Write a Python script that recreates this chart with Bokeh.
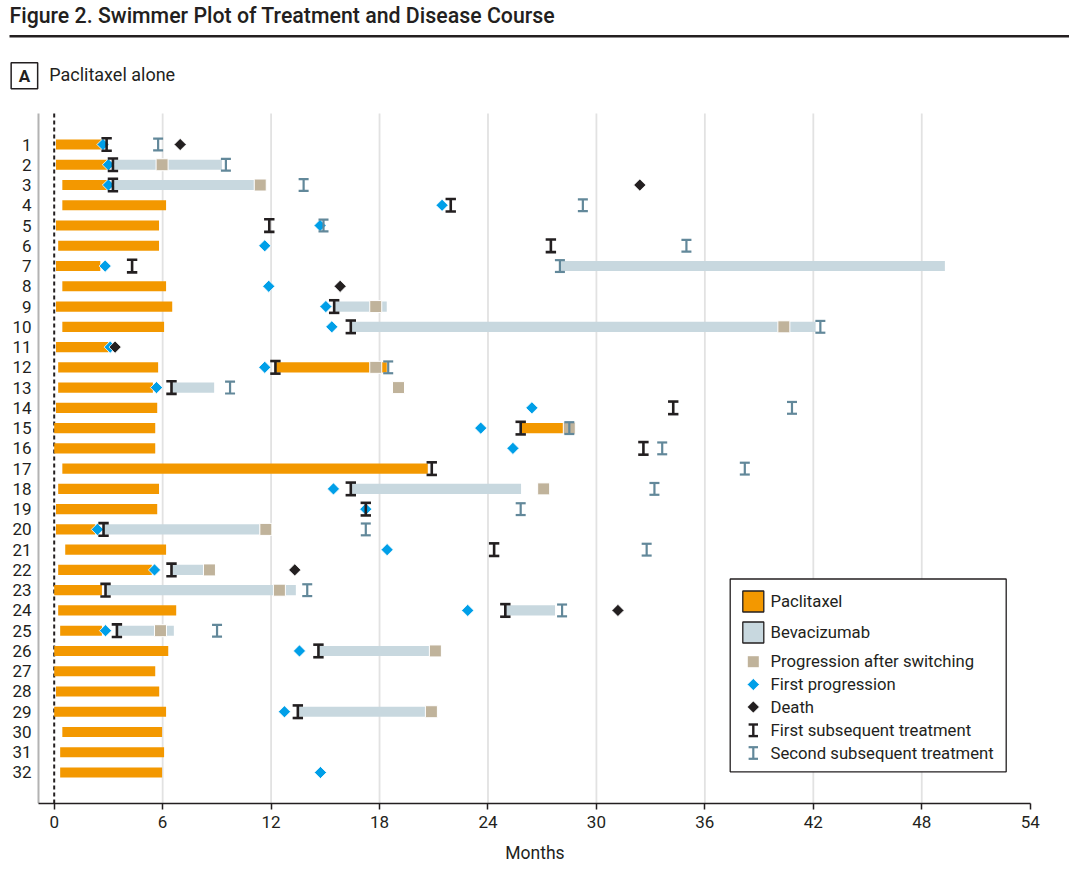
import numpy as np
from bokeh.plotting import figure
from bokeh.models import Range1d, FixedTicker
from bokeh.embed import file_html
from bokeh.resources import INLINE
from bokeh.core.properties import value

# ---------------- data (months) ----------------
patients = list(range(1, 33))
pac_start = [0.1, 0.1, 0.45, 0.45, 0.1, 0.22, 0.1, 0.45, 0.1, 0.45,
             0.1, 0.22, 0.22, 0.1, 0.0, 0.0, 0.45, 0.22, 0.1, 0.1,
             0.61, 0.22, 0.0, 0.22, 0.33, 0.0, 0.0, 0.1, 0.0, 0.45,
             0.33, 0.33]
pac_end = [2.6, 3.0, 3.0, 6.19, 5.8, 5.8, 2.55, 6.19, 6.53, 6.08,
           3.0, 5.75, 5.46, 5.7, 5.59, 5.59, 20.67, 5.8, 5.7, 2.27,
           6.19, 5.4, 2.64, 6.75, 2.64, 6.31, 5.59, 5.81, 6.19, 5.97,
           6.08, 5.97]

# later paclitaxel course
pac2_rows = [12, 15]
pac2_start = [12.24, 25.81]
pac2_end = [18.4, 28.17]

# bevacizumab course
bev_rows = [2, 3, 7, 9, 10, 13, 18, 20, 22, 23, 24, 25, 26, 29]
bev_start = [3.25, 3.25, 27.98, 15.49, 16.41, 6.49, 16.41, 2.73, 6.49, 2.84, 24.96, 3.47, 14.62, 13.48]
bev_end = [9.28, 11.06, 49.28, 18.4, 42.13, 8.85, 25.83, 11.36, 8.26, 13.37, 27.71, 6.62, 20.74, 20.52]

# progression after switching
switch_rows = [2, 3, 9, 10, 12, 13, 15, 18, 20, 22, 23, 25, 26, 29]
switch_month = [5.97, 11.4, 17.79, 40.37, 17.79, 19.05, 28.5, 27.08, 11.71, 8.59, 12.46, 5.88, 21.09, 20.87]

# first progression
prog_rows = [1, 2, 3, 4, 5, 6, 7, 8, 9, 10, 11, 12, 13, 14, 15, 16, 18, 19, 20,
             21, 22, 24, 25, 26, 29, 32]
prog_month = [2.7, 3.0, 3.0, 21.46, 14.71, 11.65, 2.82, 11.87, 15.03, 15.36, 3.1, 11.65,
              5.66, 26.43, 23.6, 25.38, 15.45, 17.24, 2.39, 18.42, 5.55, 22.88, 2.84,
              13.57, 12.74, 14.73]

# death
death_rows = [1, 3, 8, 11, 22, 24]
death_month = [6.97, 32.4, 15.82, 3.37, 13.31, 31.19]

# first subsequent treatment
first_rows = [1, 2, 3, 4, 5, 6, 7, 9, 10, 12, 13, 14, 15, 16, 17, 18, 19, 20,
              21, 22, 23, 24, 25, 26, 29]
first_month = [2.9, 3.25, 3.25, 21.94, 11.9, 27.48, 4.31, 15.49, 16.41, 12.24, 6.49,
               34.25, 25.81, 32.6, 20.89, 16.41, 17.24, 2.73, 24.34, 6.49, 2.84,
               24.96, 3.47, 14.62, 13.48]

# second subsequent treatment
second_rows = [1, 2, 3, 4, 5, 6, 7, 10, 12, 13, 14, 15, 16, 17, 18, 19, 20, 21, 23, 24, 25]
second_month = [5.75, 9.5, 13.8, 29.25, 14.9, 34.98, 27.98, 42.39, 18.48, 9.73, 40.82,
                28.5, 33.64, 38.21, 33.21, 25.81, 17.24, 32.78, 14.0, 28.1, 9.01]

x_ticks = [0, 6, 12, 18, 24, 30, 36, 42, 48, 54]
legend_labels = ["Paclitaxel", "Bevacizumab", "Progression after switching",
                 "First progression", "Death", "First subsequent treatment",
                 "Second subsequent treatment"]

# ---------------- styles / geometry ----------------
FONT = value("Roboto")
DARK = "#231f20"
ORANGE = "#f39800"
BEV = "#c8d8df"
TAN = "#c0b39b"
BLUE = "#009fe8"
STEEL = "#62889a"
GRID = "#e2e2e2"

W = 1069
H = 878
B_BOTTOM = 75
FRAME_H = H - B_BOTTOM

PX_PER_MONTH = 18.074
PX_PER_ROW = 20.258
X0_PX = 53.7            # canvas x of month 0
ROW1_PX = 144.0         # canvas y of patient 1
x_lo = -X0_PX / PX_PER_MONTH
x_hi = (W - X0_PX) / PX_PER_MONTH
y_top = 1 - ROW1_PX / PX_PER_ROW
y_bot = 1 + (FRAME_H - ROW1_PX) / PX_PER_ROW

X_START = -0.869        # left edge of plotting area (months)
Y_TOP = -0.53           # top edge of plotting area (rows)

p = figure(width=W, height=H, x_range=Range1d(x_lo, x_hi), y_range=Range1d(y_bot, y_top),
           y_axis_type=None, output_backend="svg", toolbar_location=None)
p.min_border_left = 0
p.min_border_right = 0
p.min_border_top = 0
p.min_border_bottom = B_BOTTOM
p.outline_line_color = None
p.grid.visible = False

ax = p.xaxis[0]
ax.bounds = (X_START, x_ticks[-1])
ax.ticker = FixedTicker(ticks=x_ticks)
ax.axis_line_color = DARK
ax.axis_line_width = 1.5
ax.major_tick_line_color = DARK
ax.major_tick_line_width = 1.5
ax.major_tick_out = 6
ax.major_tick_in = 0
ax.minor_tick_line_color = None
ax.major_label_text_font = "Roboto"
ax.major_label_text_font_size = "17px"
ax.major_label_text_color = DARK
ax.major_label_standoff = 6
ax.axis_label = "Months"
ax.axis_label_text_font = "Roboto"
ax.axis_label_text_font_size = "17.5px"
ax.axis_label_text_font_style = "normal"
ax.axis_label_text_color = DARK
ax.axis_label_standoff = 12

n_grid = len(x_ticks) - 2
p.segment(x0=x_ticks[1:-1], y0=[Y_TOP] * n_grid, x1=x_ticks[1:-1], y1=[y_bot] * n_grid,
          line_color=GRID, line_width=1.8)
# left spine of the plotting area
p.segment(x0=[X_START], y0=[Y_TOP], x1=[X_START], y1=[y_bot], line_color="#b3b3b3",
          line_width=2)
# dashed line at month 0
p.segment(x0=[x_ticks[0]], y0=[Y_TOP], x1=[x_ticks[0]], y1=[y_bot], line_color=DARK,
          line_width=2, line_dash="4 3")
# patient labels
p.text(x=[X_START - 7 / PX_PER_MONTH] * len(patients), y=patients,
       text=[str(i) for i in patients], text_font=FONT, text_font_size="17px",
       text_color=DARK, text_align="right", text_baseline="middle")

BAR_H = 0.5
p.hbar(y=patients, left=pac_start, right=pac_end, height=BAR_H, fill_color=ORANGE,
       line_color=None)
p.hbar(y=pac2_rows, left=pac2_start, right=pac2_end, height=BAR_H, fill_color=ORANGE,
       line_color=None)
p.hbar(y=bev_rows, left=bev_start, right=bev_end, height=BAR_H, fill_color=BEV,
       line_color=None)
p.scatter(x=switch_month, y=switch_rows, marker="square", size=12, fill_color=TAN,
          line_color="white", line_width=1)
p.scatter(x=prog_month, y=prog_rows, marker="square", size=8.6, angle=np.pi / 4,
          fill_color=BLUE, line_color="white", line_width=0.8)
p.scatter(x=death_month, y=death_rows, marker="square", size=8.6, angle=np.pi / 4,
          fill_color=DARK, line_color="white", line_width=0.8)


def ibeam(fig, xs, ys, hw, hh, color, lw, **kw):
    xs = np.asarray(xs, float)
    ys = np.asarray(ys, float)
    fig.segment(x0=xs, y0=ys - hh, x1=xs, y1=ys + hh, line_color=color, line_width=lw, **kw)
    fig.segment(x0=xs - hw, y0=ys - hh, x1=xs + hw, y1=ys - hh, line_color=color,
                line_width=lw, **kw)
    fig.segment(x0=xs - hw, y0=ys + hh, x1=xs + hw, y1=ys + hh, line_color=color,
                line_width=lw, **kw)


ibeam(p, second_month, second_rows, 5.0 / PX_PER_MONTH, 5.9 / PX_PER_ROW, STEEL, 2.2)
ibeam(p, first_month, first_rows, 5.2 / PX_PER_MONTH, 6.3 / PX_PER_ROW, DARK, 2.6)

# ---------------- canvas-pixel coordinates for header and legend ----------------
p.extra_x_ranges = {"cx": Range1d(0, W)}
p.extra_y_ranges = {"cy": Range1d(FRAME_H, 0)}
C = dict(x_range_name="cx", y_range_name="cy")

# header
p.text(x=[9], y=[15.2], text=["Figure 2. Swimmer Plot of Treatment and Disease Course"],
       text_font=value("Roboto Medium"), text_font_size="21.3px", text_color=DARK,
       text_baseline="middle", text_align="left", **C)
p.segment(x0=[9], y0=[35.7], x1=[W], y1=[35.7], line_color=DARK, line_width=2.5, **C)
p.rect(x=[23.9], y=[75.3], width=26.5, height=26, fill_color="white", line_color=DARK,
       line_width=1.5, **C)
p.text(x=[23.9], y=[75.5], text=["A"], text_font=FONT, text_font_size="17px",
       text_font_style="bold", text_color=DARK, text_align="center", text_baseline="middle",
       **C)
p.text(x=[48.7], y=[74.3], text=["Paclitaxel alone"], text_font=FONT, text_font_size="18px",
       text_color=DARK, text_baseline="middle", text_align="left", **C)

# legend
p.quad(left=[729.7], right=[1005.7], top=[578.5], bottom=[771.3], fill_color="white",
       line_color=DARK, line_width=1.3, **C)
sw_x = 752.8
p.rect(x=[sw_x], y=[601], width=21, height=21, fill_color=ORANGE, line_color=DARK,
       line_width=1.3, **C)
p.rect(x=[sw_x], y=[632], width=21, height=21, fill_color=BEV, line_color=DARK,
       line_width=1.3, **C)
p.scatter(x=[sw_x], y=[661.2], marker="square", size=11, fill_color=TAN,
          line_color=None, **C)
p.scatter(x=[sw_x], y=[684], marker="square", size=8.6, angle=np.pi / 4,
          fill_color=BLUE, line_color="white", line_width=0.8, **C)
p.scatter(x=[sw_x], y=[706.5], marker="square", size=8.6, angle=np.pi / 4,
          fill_color=DARK, line_color="white", line_width=0.8, **C)
ibeam(p, [sw_x], [729.8], 4.7, 5.8, DARK, 2.4, **C)
ibeam(p, [sw_x], [752.5], 4.7, 5.8, STEEL, 2.2, **C)
p.text(x=[770] * 7, y=[601, 632, 661, 684, 707, 730, 753], text=legend_labels,
       text_font=FONT, text_font_size="16.7px", text_color=DARK,
       text_baseline="middle", text_align="left", **C)

open("out.html", "w").write(file_html(p, INLINE))
